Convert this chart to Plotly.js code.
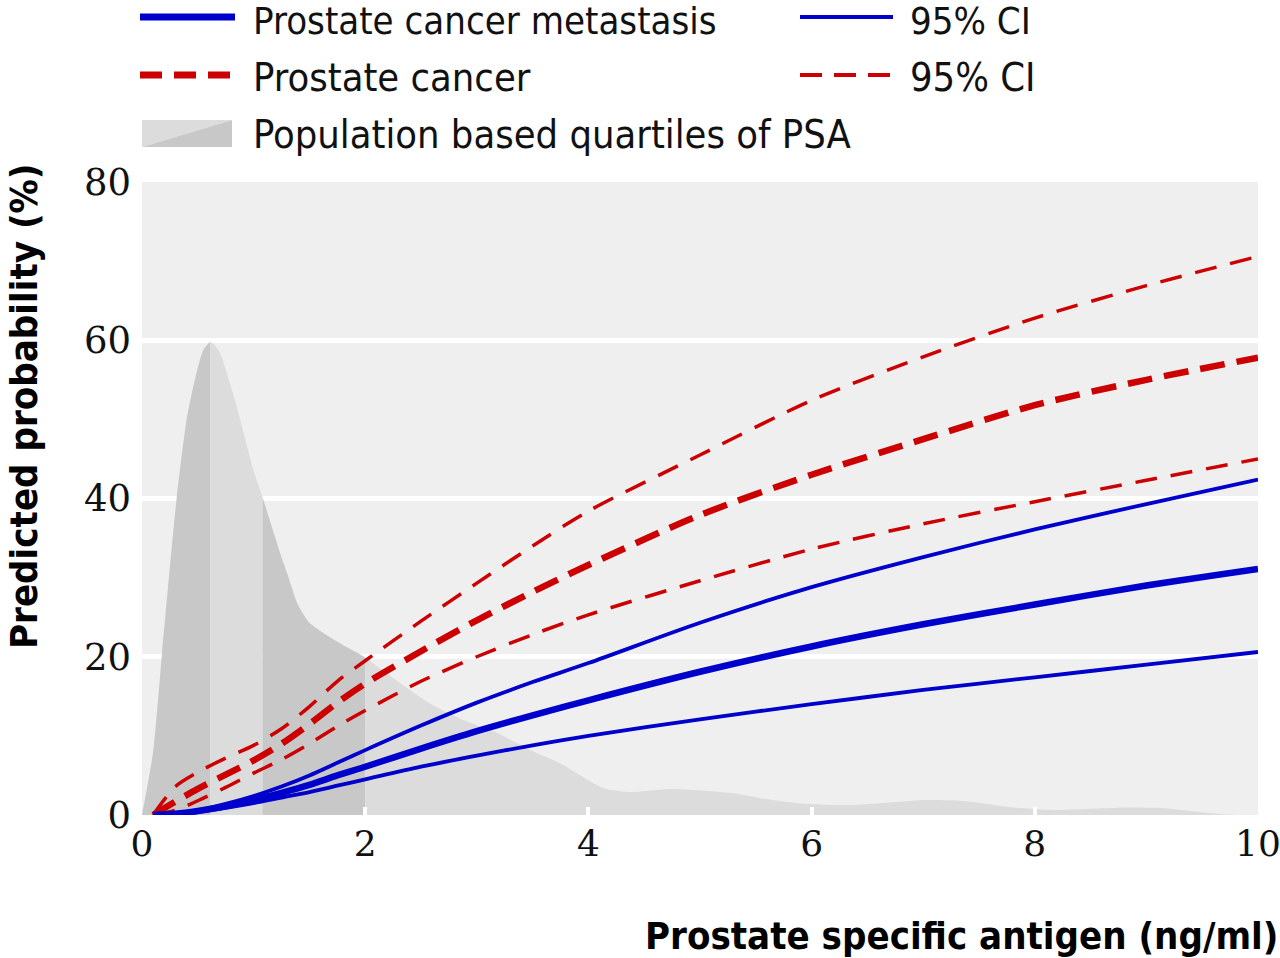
<!DOCTYPE html>
<html>
<head>
<meta charset="utf-8">
<script src="https://cdn.plot.ly/plotly-3.0.1.min.js"></script>
<style>
html,body{margin:0;padding:0;background:#fff;}
#chart{width:1280px;height:958px;}
</style>
</head>
<body>
<div id="chart"></div>
<script>
// ---- data ----
var psaX = [0.1, 0.3, 0.5, 0.75, 1, 1.25, 1.5, 1.75, 2, 2.5, 3, 3.5, 4, 5, 6, 7, 8, 9, 10];

var metastasis      = [0, 0.15, 0.5, 1.1, 1.9, 2.8, 3.8, 5.0, 6.1, 8.4, 10.6, 12.6, 14.5, 18.1, 21.3, 24.1, 26.6, 29.0, 31.1];
var metastasisUpper = [0, 0.2, 0.6, 1.4, 2.4, 3.6, 5.0, 6.6, 8.2, 11.3, 14.2, 16.8, 19.2, 24.3, 28.8, 32.6, 36.1, 39.3, 42.4];
var metastasisLower = [0, 0.1, 0.4, 0.9, 1.5, 2.2, 2.9, 3.7, 4.5, 6.1, 7.5, 8.8, 10.0, 12.1, 14.0, 15.8, 17.4, 19.0, 20.6];

var cancer      = [0, 1.7, 3.3, 5.1, 6.9, 9.0, 11.5, 14.2, 16.6, 20.7, 24.6, 28.2, 31.6, 37.9, 43.0, 47.5, 51.8, 55.0, 57.8];
var cancerUpper = [0, 3.6, 5.4, 7.2, 8.8, 10.9, 13.7, 16.9, 19.5, 24.5, 29.3, 34.0, 38.4, 45.5, 52.4, 57.9, 62.8, 66.9, 70.6];
var cancerLower = [0, 0.6, 1.8, 3.5, 5.3, 7.0, 9.0, 11.2, 13.2, 16.9, 20.0, 22.8, 25.3, 29.6, 33.6, 36.8, 39.6, 42.3, 45.0];

// population density of PSA (drawn on the probability scale)
var densX = [0, 0.1, 0.18, 0.31, 0.4, 0.49, 0.55, 0.61, 0.65, 0.7, 0.8, 0.88, 1.0, 1.08, 1.24, 1.3, 1.4, 1.5, 1.68, 1.8, 1.93, 2.0,
             2.28, 2.58, 2.88, 3.18, 3.48, 3.75, 4.13, 4.35, 4.75, 5.27, 5.55, 5.87, 6.35, 7.03, 7.35, 7.75, 8.15, 8.75, 9.16, 9.55, 9.8, 10];
var densY = [0, 8, 20.5, 40, 50, 56, 58.8, 59.8, 59.4, 58.4, 54, 50, 43.5, 40.2, 33, 30.6, 26.5, 24.3, 22.5, 21.5, 20.5, 19.9,
             17, 14.1, 12, 10.4, 8.2, 6.5, 3.4, 2.9, 3.3, 2.8, 2.1, 1.5, 1.26, 1.9, 1.8, 1.05, 0.63, 0.93, 0.85, 0.25, 0, 0];
var quartileCuts = [0.61, 1.08, 2.0];

var yTicks = [0, 20, 40, 60, 80];
var xTicks = [0, 2, 4, 6, 8, 10];

var legendLabels = ["Prostate cancer metastasis", "95% CI", "Prostate cancer", "95% CI", "Population based quartiles of PSA"];
var xTitle = "Prostate specific antigen (ng/ml)";
var yTitle = "Predicted probability (%)";

// ---- styling ----
var W = 1280, H = 958;
var M = {l: 142, r: 22, t: 182, b: 143};
var plotW = W - M.l - M.r, plotH = H - M.t - M.b;
function px(x) { return (x - M.l) / plotW; }
function py(y) { return (H - M.b - y) / plotH; }

var BLUE = "#0000cc", RED = "#cc0000";
var DARK = "#c8c8c8", LIGHT = "#dcdcdc";
var sansFont = "'Liberation Sans Narrow', 'DejaVu Sans Condensed', 'Arial Narrow', sans-serif";

var traces = [];
// density split into quartile segments
var bounds = [densX[0]].concat(quartileCuts).concat([densX[densX.length - 1]]);
for (var q = 0; q < 4; q++) {
  var sx = [], sy = [];
  for (var i = 0; i < densX.length; i++) {
    if (densX[i] >= bounds[q] - 1e-9 && densX[i] <= bounds[q + 1] + 1e-9) { sx.push(densX[i]); sy.push(densY[i]); }
  }
  traces.push({x: sx, y: sy, type: "scatter", mode: "lines", fill: "tozeroy",
    fillcolor: (q % 2 === 0) ? DARK : LIGHT, line: {width: 0, color: (q % 2 === 0) ? DARK : LIGHT, shape: "spline", smoothing: 0.6},
    hoverinfo: "skip", showlegend: false});
}
function line(y, color, width, dash) {
  return {x: psaX, y: y, type: "scatter", mode: "lines", showlegend: false,
    line: {color: color, width: width, dash: dash, shape: "spline", smoothing: 0.8}};
}
traces.push(line(cancerUpper, RED, 3.5, "22px,14px"));
traces.push(line(cancerLower, RED, 3.5, "22px,14px"));
traces.push(line(cancer, RED, 6.5, "25px,12px"));
traces.push(line(metastasisUpper, BLUE, 3.8, "solid"));
traces.push(line(metastasisLower, BLUE, 3.8, "solid"));
traces.push(line(metastasis, BLUE, 6.5, "solid"));

// ---- custom legend ----
var shapes = [
  {type: "line", xref: "paper", yref: "paper", x0: px(140), x1: px(235), y0: py(17), y1: py(17), line: {color: BLUE, width: 7}},
  {type: "line", xref: "paper", yref: "paper", x0: px(800), x1: px(893), y0: py(17), y1: py(17), line: {color: BLUE, width: 3.8}},
  {type: "line", xref: "paper", yref: "paper", x0: px(140), x1: px(235), y0: py(75), y1: py(75), line: {color: RED, width: 7, dash: "22px,12px"}},
  {type: "line", xref: "paper", yref: "paper", x0: px(800), x1: px(893), y0: py(75), y1: py(75), line: {color: RED, width: 3.8, dash: "22px,12px"}},
  {type: "path", xref: "paper", yref: "paper", fillcolor: LIGHT, line: {width: 0},
    path: "M" + px(142) + "," + py(120) + " L" + px(232) + "," + py(120) + " L" + px(142) + "," + py(147) + " Z"},
  {type: "path", xref: "paper", yref: "paper", fillcolor: DARK, line: {width: 0},
    path: "M" + px(232) + "," + py(120) + " L" + px(232) + "," + py(147) + " L" + px(142) + "," + py(147) + " Z"}
];
function legText(t, x, y, size) {
  return {text: t, xref: "paper", yref: "paper", x: px(x), y: py(y), xanchor: "left", yanchor: "middle", showarrow: false,
    font: {family: sansFont, size: size, color: "#111"}};
}
var annotations = [
  legText(legendLabels[0], 251, 21, 38),
  legText(legendLabels[1], 908, 21, 38),
  legText(legendLabels[2], 251, 77, 39.5),
  legText(legendLabels[3], 908, 77, 39.5),
  legText(legendLabels[4], 251, 134, 39.5),
  {text: "<b>" + xTitle + "</b>", xref: "paper", yref: "paper", x: px(1280), y: py(936), xanchor: "right", yanchor: "middle",
    showarrow: false, font: {family: sansFont, size: 38, color: "#000"}},
  {text: "<b>" + yTitle + "</b>", xref: "paper", yref: "paper", x: px(24), y: py(407), xanchor: "center", yanchor: "middle",
    textangle: -90, showarrow: false, font: {family: sansFont, size: 38, color: "#000"}}
];

var layout = {
  width: W, height: H,
  margin: M,
  paper_bgcolor: "#ffffff",
  plot_bgcolor: "#efefef",
  showlegend: false,
  xaxis: {range: [0, 10.0001], tickvals: xTicks, ticktext: xTicks.map(String), showgrid: false, zeroline: false,
    ticks: "inside", ticklen: 8, tickwidth: 4, tickcolor: "#ffffff", showline: false, ticklabeloverflow: "allow",
    tickfont: {family: "'DejaVu Serif', serif", size: 36, color: "#111"}, ticklabelstandoff: 4, fixedrange: true},
  yaxis: {range: [0, 80], tickvals: yTicks, ticktext: yTicks.map(String), showgrid: true, gridcolor: "#ffffff", gridwidth: 5,
    zeroline: false, ticks: "", showline: false,
    tickfont: {family: "'DejaVu Serif', serif", size: 37, color: "#111"}, ticklabelstandoff: 10, fixedrange: true},
  shapes: shapes,
  annotations: annotations
};

Plotly.newPlot("chart", traces, layout, {displayModeBar: false, staticPlot: true});
</script>
</body>
</html>
